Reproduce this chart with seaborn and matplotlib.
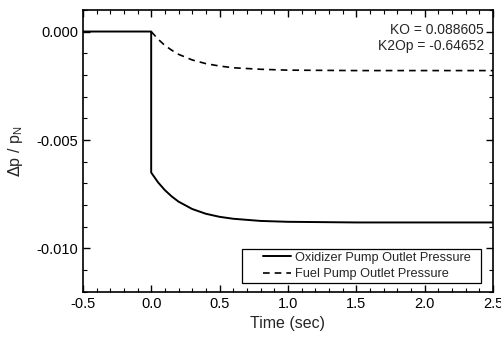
import seaborn as sns
import numpy as np
import pandas as pd
import matplotlib.pyplot as plt
from matplotlib.patches import Rectangle
from matplotlib.ticker import MultipleLocator

# values
t_oxi = [-0.5, 0.0, 0.0, 0.05, 0.1, 0.15, 0.2, 0.3, 0.4, 0.5, 0.6, 0.8, 1.0, 1.5, 2.0, 2.5]
p_oxi = [0.0, 0.0, -0.0065, -0.00695, -0.00731, -0.0076, -0.00784, -0.00818, -0.0084,
         -0.00854, -0.00863, -0.00873, -0.00877, -0.0088, -0.0088, -0.0088]
t_fuel = [0.0, 0.05, 0.1, 0.15, 0.2, 0.3, 0.4, 0.5, 0.6, 0.8, 1.0, 1.5, 2.0, 2.5]
p_fuel = [0.0, -0.00035, -0.00064, -0.00086, -0.00105, -0.00131, -0.00148, -0.00159,
          -0.00167, -0.00174, -0.00178, -0.0018, -0.0018, -0.0018]
labels = ['Oxidizer Pump Outlet Pressure', 'Fuel Pump Outlet Pressure']

sns.set_style('ticks')
plt.rcParams['font.family'] = ['Liberation Sans', 'DejaVu Sans']
plt.rcParams['font.size'] = 10
plt.rcParams['axes.unicode_minus'] = False

fig = plt.figure(figsize=(5.02, 3.39), dpi=100)
ax = fig.add_axes([0.165, 0.139, 0.817, 0.832])

df1 = pd.DataFrame({'t': t_oxi, 'p': p_oxi})
df2 = pd.DataFrame({'t': t_fuel, 'p': p_fuel})
sns.lineplot(data=df1, x='t', y='p', ax=ax, color='black', lw=1.4, label=labels[0],
             sort=False, estimator=None)
sns.lineplot(data=df2, x='t', y='p', ax=ax, color='black', lw=1.2, ls=(0, (4, 3)),
             label=labels[1], sort=False, estimator=None)

ax.set_xlim(-0.5, 2.5)
ax.set_ylim(-0.012, 0.001)
ax.xaxis.set_major_locator(MultipleLocator(0.5))
ax.xaxis.set_minor_locator(MultipleLocator(0.1))
ax.yaxis.set_major_locator(MultipleLocator(0.005))
ax.yaxis.set_minor_locator(MultipleLocator(0.001))
ax.yaxis.set_major_formatter(plt.FuncFormatter(lambda v, p: '%.3f' % v))
ax.tick_params(which='both', direction='in', top=True, right=True, colors='black',
               labelsize=10.5)
ax.tick_params(which='major', length=5, width=1)
ax.tick_params(which='minor', length=3, width=0.8)
for s in ax.spines.values():
    s.set_linewidth(1.2)
    s.set_color('black')

ax.set_xlabel('Time (sec)', fontsize=11.5)
ax.set_ylabel(r'$\Delta$p / p$_\mathregular{N}$', fontsize=11.5, labelpad=8)

ax.text(0.978, 0.955, 'KO = 0.088605\nK2Op = -0.64652', transform=ax.transAxes,
        ha='right', va='top', fontsize=10, linespacing=1.25)

# legend box drawn separately, entries sit to the right inside it
ax.add_patch(Rectangle((0.388, 0.032), 0.583, 0.12, transform=ax.transAxes,
                       facecolor='white', edgecolor='black', lw=0.9, zorder=4))
leg = ax.legend(loc='center left', bbox_to_anchor=(0.439, 0.092), borderaxespad=0,
                frameon=False, fontsize=9.2, borderpad=0,
                handlelength=2.2, handletextpad=0.35, labelspacing=0.35)
leg.set_zorder(5)

fig.savefig('out.png', dpi=100)
